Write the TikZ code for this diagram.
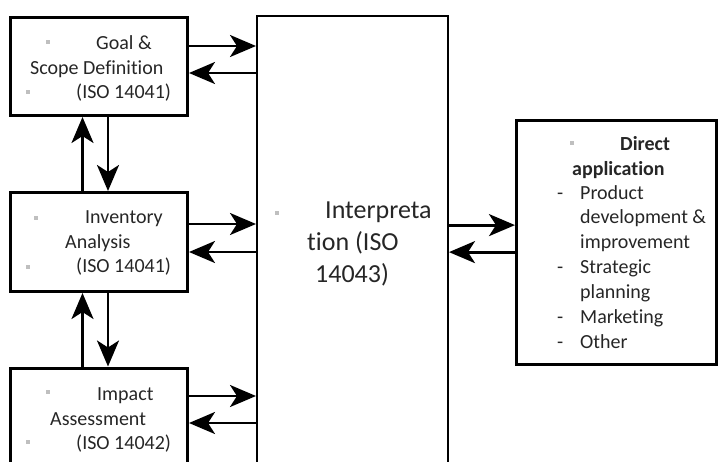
\documentclass[tikz,border=0pt]{standalone}
\usepackage{fontspec}
\setmainfont{Carlito}[Ligatures={NoCommon,NoRequired,NoContextual}]
\usetikzlibrary{calc,arrows.meta}

\begin{document}
\begin{tikzpicture}[x=1pt, y=-1pt,
    stagebox/.style={draw, line width=3pt, inner sep=0pt},
    txt/.style={anchor=base west, inner sep=0pt, text=black!85, font=\fontsize{20}{24}\selectfont},
    bigtxt/.style={txt, font=\fontsize{26}{31}\selectfont},
    flow/.style={line width=2.8pt, -{Stealth[length=26pt 0,width=22pt 0,inset=7pt 0]}},
    bul/.style={fill=black!25}]
  \useasboundingbox (0,0) rectangle (718,461);
  \clip (0,0) rectangle (718,461);

  % stages
  \node[stagebox, minimum width=177.5pt, minimum height=98.5pt] (goal) at (98.75,66.25) {};
  \node[stagebox, minimum width=177.5pt, minimum height=99pt] (inventory) at (98.75,242) {};
  \node[stagebox, minimum width=177.5pt, minimum height=99pt] (impact) at (98.75,417.5) {};
  \node[stagebox, line width=2pt, minimum width=191pt, minimum height=464pt] (interp) at (352.5,248) {};
  \node[stagebox, minimum width=200pt, minimum height=244pt] (direct) at (616.5,242.6) {};

  % texts
  \fill[bul] (46,40) rectangle +(4,4);
  \fill[bul] (26,90) rectangle +(4,4);
  \node[txt] (goal-a) at (96,49) {Goal \&};
  \node[txt] (goal-b) at (30,74) {Scope Definition};
  \node[txt] (goal-c) at (76,98) {(ISO 14041)};

  \fill[bul] (34,216) rectangle +(4,4);
  \node[txt] (inv-a) at (85,223) {Inventory};
  \node[txt] (inv-b) at (65,248) {Analysis};
  \fill[bul] (26,265) rectangle +(4,4);
  \node[txt] (inv-c) at (76,272) {(ISO 14041)};

  \fill[bul] (46,390) rectangle +(4,4);
  \node[txt] (imp-a) at (97,400) {Impact};
  \node[txt] (imp-b) at (50,425) {Assessment};
  \fill[bul] (26,440) rectangle +(4,4);
  \node[txt] (imp-c) at (76,449) {(ISO 14042)};

  \fill[bul] (275,211) rectangle +(4,4);
  \node[bigtxt] (int-a) at (325,218) {Interpreta};
  \node[bigtxt] (int-b) at (307,250) {tion (ISO};
  \node[bigtxt] (int-c) at (315,282) {14043)};

  \fill[bul] (570,141) rectangle +(4,4);
  \node[txt, font=\fontsize{20}{24}\selectfont\bfseries] (dir-a) at (620,150) {Direct};
  \node[txt, font=\fontsize{20}{24}\selectfont\bfseries] (dir-b) at (572,175) {application};
  \node[txt] (dir-c) at (557,199) {-};
  \node[txt] (dir-d) at (580,199) {Product};
  \node[txt] (dir-e) at (580,223) {development \&};
  \node[txt] (dir-f) at (580,248) {improvement};
  \node[txt] (dir-g) at (557,273) {-};
  \node[txt] (dir-h) at (580,273) {Strategic};
  \node[txt] (dir-i) at (580,298) {planning};
  \node[txt] (dir-j) at (557,323) {-};
  \node[txt] (dir-k) at (580,323) {Marketing};
  \node[txt] (dir-l) at (557,348) {-};
  \node[txt] (dir-m) at (580,348) {Other};

  % stages <-> interpretation
  \draw[flow] ($(goal.north east)+(0,30.5)$) -- ($(goal.north east -| interp.west)+(0,30.5)$);
  \draw[flow] ($(goal.north east -| interp.west)+(0,57.5)$) -- ($(goal.north east)+(0,57.5)$);
  \draw[flow] ($(inventory.north east)+(0,33)$) -- ($(inventory.north east -| interp.west)+(0,33)$);
  \draw[flow] ($(inventory.north east -| interp.west)+(0,61)$) -- ($(inventory.north east)+(0,61)$);
  \draw[flow] ($(impact.north east)+(0,29.5)$) -- ($(impact.north east -| interp.west)+(0,29.5)$);
  \draw[flow] ($(impact.north east -| interp.west)+(0,56.5)$) -- ($(impact.north east)+(0,56.5)$);

  % interpretation <-> direct application
  \draw[flow] ($(direct.north west -| interp.east)+(0,106)$) -- ($(direct.north west)+(0,106)$);
  \draw[flow] ($(direct.north west)+(0,133)$) -- ($(direct.north west -| interp.east)+(0,133)$);

  % between stages
  \draw[flow] ($(inventory.north west)+(74,0)$) -- ($(goal.south west)+(74,0)$);
  \draw[flow] ($(goal.south west)+(99.5,0)$) -- ($(inventory.north west)+(99.5,0)$);
  \draw[flow] ($(impact.north west)+(74,0)$) -- ($(inventory.south west)+(74,0)$);
  \draw[flow] ($(inventory.south west)+(99.5,0)$) -- ($(impact.north west)+(99.5,0)$);
\end{tikzpicture}
\end{document}
